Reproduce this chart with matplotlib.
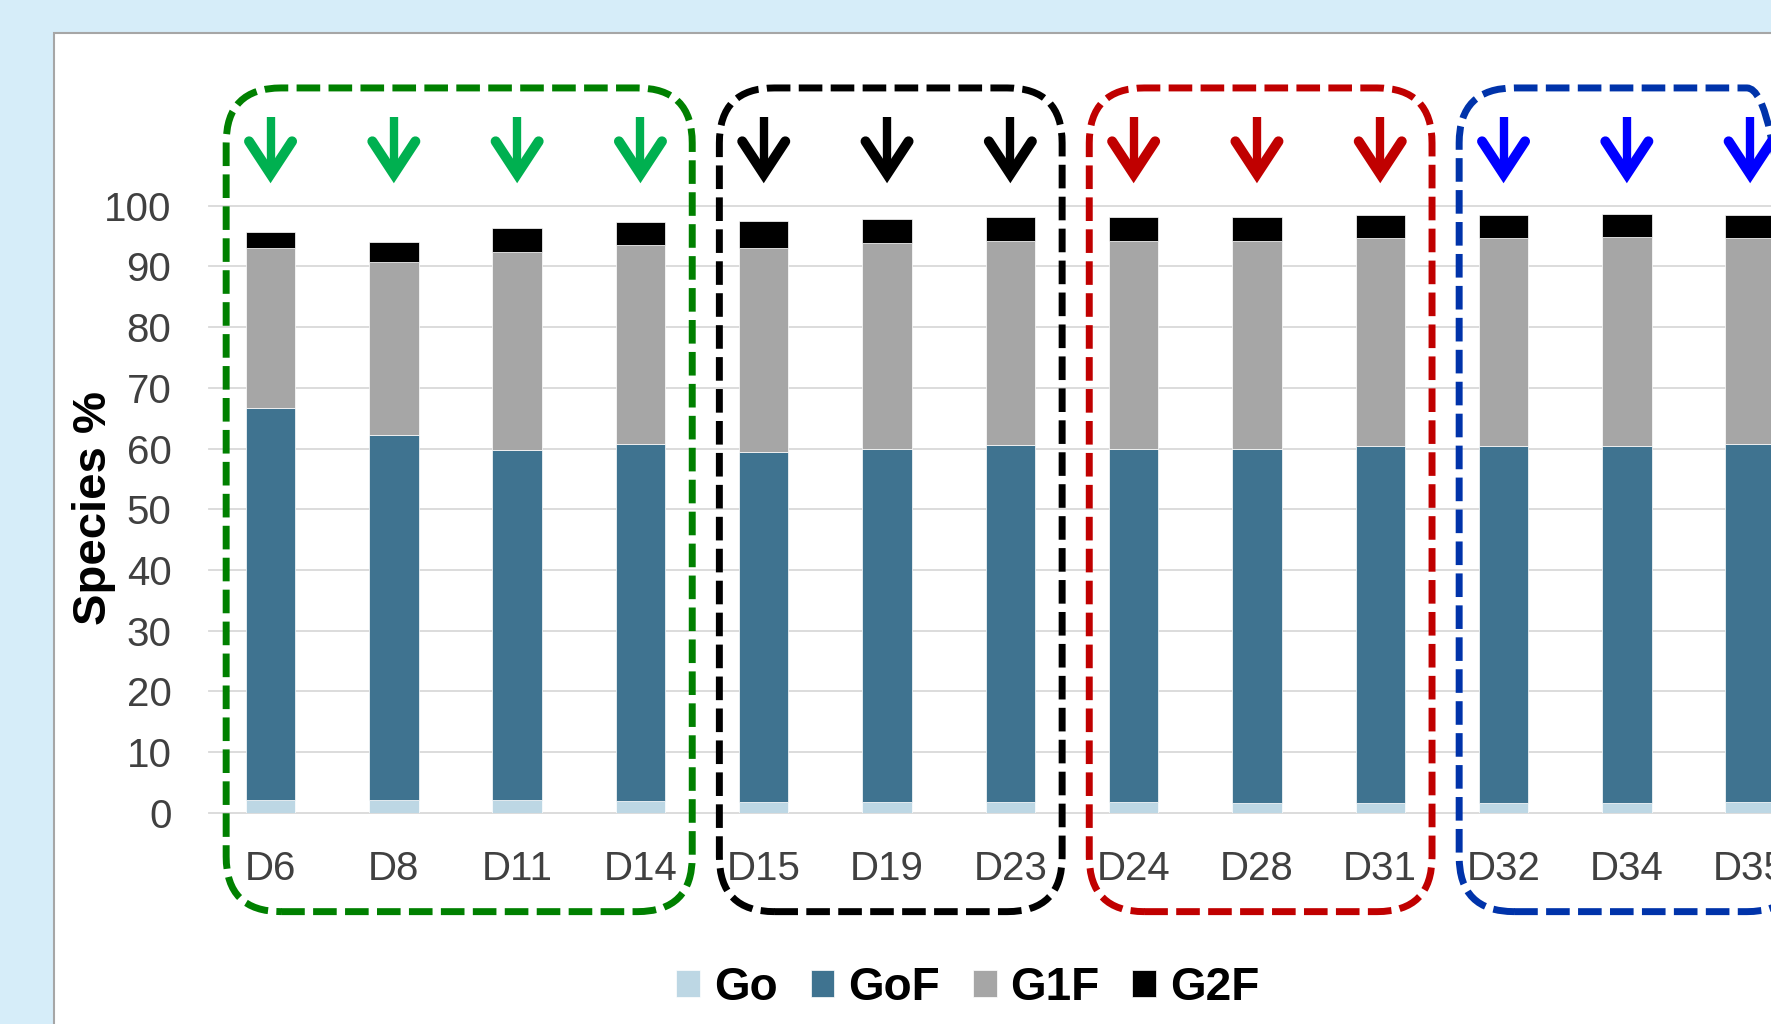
import numpy as np
import matplotlib.pyplot as plt
from matplotlib.patches import FancyBboxPatch, Rectangle

plt.rcParams['font.family'] = ['Liberation Sans', 'DejaVu Sans']

# Data (species %)
days = ['D6', 'D8', 'D11', 'D14', 'D15', 'D19', 'D23',
        'D24', 'D28', 'D31', 'D32', 'D34', 'D35']
go = [2.1, 2.1, 2.1, 1.9, 1.8, 1.7, 1.7, 1.75, 1.55, 1.65, 1.65, 1.6, 1.7]
gof = [64.6, 60.1, 57.7, 58.8, 57.7, 58.2, 58.9, 58.25, 58.35, 58.75, 58.75, 58.8, 59.1]
g1f = [26.4, 28.6, 32.5, 32.8, 33.6, 34.0, 33.6, 34.2, 34.3, 34.2, 34.3, 34.4, 33.9]
g2f = [2.5, 3.3, 4.0, 3.8, 4.3, 3.9, 4.0, 3.9, 4.0, 3.9, 3.7, 3.8, 3.7]
series = ['Go', 'GoF', 'G1F', 'G2F']
colors = ['#BDD7E4', '#3F7390', '#A6A6A6', '#000000']

# groups of days marked by dashed boxes
group_sizes = [4, 3, 3, 3]
box_colors = ['#008000', '#000000', '#C00000', '#0033AA']
arrow_colors = ['#00B050', '#000000', '#C00000', '#0000FF']

W, H = 1771, 1024
fig = plt.figure(figsize=(W / 100, H / 100), dpi=100, facecolor='#D6EDF9')
fig.add_artist(Rectangle((54 / W, -0.01), 1.0, 1 - 33 / H + 0.01,
                         transform=fig.transFigure, facecolor='white',
                         edgecolor='#A6A6A6', lw=1.5, zorder=0))

ax = fig.add_axes([208.9 / W, 1 - 812.7 / H, 1 - 208.9 / W, 607 / H])
ax.patch.set_alpha(0)

x = np.arange(len(days))
bottom = np.zeros(len(days))
for vals, col, name in zip([go, gof, g1f, g2f], colors, series):
    ax.bar(x, vals, 0.4, bottom=bottom, color=col, label=name,
           edgecolor='white', linewidth=0.5, zorder=3)
    bottom += np.array(vals)

ax.set_xlim(-0.5, -0.5 + (W - 208.9) / 123.3)
ax.set_ylim(0, 100)
ax.set_yticks(range(0, 101, 10))
ax.set_xticks(x, days)
ax.grid(axis='y', color='#D9D9D9', lw=1.3)
for gl in ax.get_ygridlines():
    gl.set_clip_on(False)
ax.set_axisbelow(True)
for s in ax.spines.values():
    s.set_visible(False)
ax.tick_params(length=0, labelsize=29, labelcolor='#404040')
ax.tick_params(axis='y', pad=27)
ax.tick_params(axis='x', pad=26.5)

ax.set_ylabel('Species %', fontsize=34, fontweight='bold', va='center')
ax.yaxis.set_label_coords(-0.0738, 0.502)

# dashed rounded boxes and arrows
ppx = ax.transData.transform([(1, 0)])[0][0] - ax.transData.transform([(0, 0)])[0][0]
ppy = ax.transData.transform([(0, 1)])[0][1] - ax.transData.transform([(0, 0)])[0][1]
box_top, box_bot = 119.4, -16.3
r = 55 / ppx
hw = 21.5 / ppx
start = 0
for n, bc, ac in zip(group_sizes, box_colors, arrow_colors):
    x0 = start - 0.36
    x1 = start + n - 1 + 0.42
    ax.add_patch(FancyBboxPatch((x0, box_bot), x1 - x0, box_top - box_bot,
                                boxstyle=f'round,pad=0,rounding_size={r}',
                                mutation_aspect=ppx / ppy, fill=False,
                                edgecolor=bc, lw=5, linestyle=(0, (3.4, 1.2)),
                                clip_on=False, zorder=5))
    for i in range(start, start + n):
        ax.plot([i, i], [114.6, 106.5], color=ac, lw=6,
                solid_capstyle='butt', clip_on=False, zorder=6)
        ax.plot([i - hw, i, i + hw], [110.6, 105.2, 110.6], color=ac, lw=7.2,
                solid_joinstyle='miter', solid_capstyle='round',
                clip_on=False, zorder=6)
    start += n

ax.legend(loc='center', bbox_to_anchor=(967.8 / W, 1 - 987.5 / H),
          bbox_transform=fig.transFigure, ncol=4, frameon=False,
          prop={'weight': 'bold', 'size': 33}, handlelength=0.52,
          handleheight=0.52, handletextpad=0.3, columnspacing=0.72,
          borderaxespad=0)

fig.savefig('out.png', dpi=100, facecolor=fig.get_facecolor())
